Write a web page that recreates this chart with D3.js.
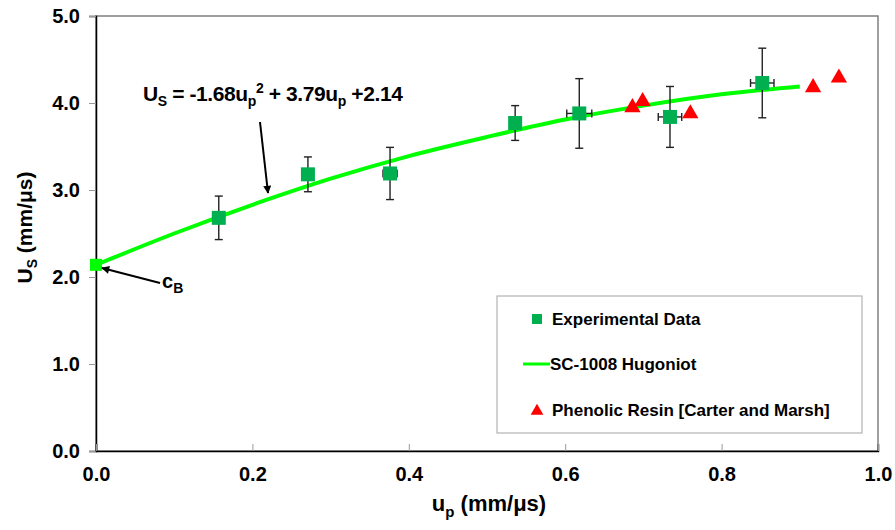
<!DOCTYPE html>
<html><head><meta charset="utf-8">
<script src="https://cdn.jsdelivr.net/npm/d3@7"></script>
<style>
body{margin:0;background:#fff}
text{font-family:"Liberation Sans",Arial,Helvetica,sans-serif;font-weight:bold;fill:#000}
</style>
</head><body><svg id="c" width="895" height="530"></svg>
<script>
// ---- data ----
const expUp    = [0.157, 0.271, 0.376, 0.536, 0.618, 0.734, 0.852];
const expUs    = [2.68, 3.18, 3.19, 3.77, 3.88, 3.84, 4.23];
const expUsErr = [0.25, 0.20, 0.30, 0.20, 0.40, 0.35, 0.40];
const expUpErr = [0, 0, 0.009, 0, 0.016, 0.015, 0.015];
const resinUp  = [0.686, 0.699, 0.760, 0.917, 0.950];
const resinUs  = [3.96, 4.03, 3.89, 4.19, 4.30];
const hugUp    = [0, 0.1, 0.2, 0.3, 0.4, 0.5, 0.6, 0.7, 0.8, 0.9];
const hugUs    = [2.14, 2.50, 2.83, 3.13, 3.39, 3.61, 3.81, 3.97, 4.10, 4.19];
const cB       = [0, 2.14];
const xTicks   = [0, 0.2, 0.4, 0.6, 0.8, 1.0];
const yTicks   = [0, 1, 2, 3, 4, 5];
const legendLabels = ["Experimental Data", "SC-1008 Hugoniot", "Phenolic Resin [Carter and Marsh]"];

// ---- layout ----
const svg = d3.select("#c");
const L = 96, R = 878, T = 16, B = 451;
const x = d3.scaleLinear().domain([0, 1]).range([L, R]);
const y = d3.scaleLinear().domain([0, 5]).range([B, T]);
const fmt = d3.format(".1f");
const GREEN = "#00b050", LIME = "#00ff00", RED = "#ff0000";

const defs = svg.append("defs");
defs.append("marker").attr("id", "arr").attr("viewBox", "0 0 10 10")
  .attr("refX", 9).attr("refY", 5).attr("markerWidth", 9).attr("markerHeight", 8)
  .attr("markerUnits", "userSpaceOnUse").attr("orient", "auto")
  .append("path").attr("d", "M0,0L10,5L0,10Z").attr("fill", "#000");

// frame (top/right grey)
svg.append("rect").attr("x", L).attr("y", T).attr("width", R - L).attr("height", B - T)
  .attr("fill", "none").attr("stroke", "#7f7f7f").attr("stroke-width", 1.5);

// axes
const gy = svg.append("g").attr("transform", `translate(${L},0)`)
  .call(d3.axisLeft(y).tickValues(yTicks).tickFormat(fmt).tickSize(7).tickPadding(9));
const gx = svg.append("g").attr("transform", `translate(0,${B})`)
  .call(d3.axisBottom(x).tickValues(xTicks).tickFormat(fmt).tickSize(-7).tickPadding(16));
[gy, gx].forEach(g => {
  g.select(".domain").attr("stroke", "#000").attr("stroke-width", 1.5);
  g.selectAll(".tick line").attr("stroke", "#999").attr("stroke-width", 1);
  g.selectAll(".tick text").style("font-size", "20px").style("font-weight", "bold")
    .style("font-family", '"Liberation Sans",Arial,sans-serif').attr("fill", "#000");
});
gx.selectAll(".tick text").attr("dy", "0.71em");

// axis titles
const yt = svg.append("text").attr("transform", `translate(32,${(T + B) / 2 - 6}) rotate(-90)`)
  .attr("text-anchor", "middle").style("font-size", "21px");
yt.append("tspan").text("U");
yt.append("tspan").text("S").style("font-size", "14px").attr("dy", 5);
yt.append("tspan").text(" (mm/μs)").attr("dy", -5);

const xt = svg.append("text").attr("x", (L + R) / 2 + 2).attr("y", 511)
  .attr("text-anchor", "middle").style("font-size", "22px");
xt.append("tspan").text("u");
xt.append("tspan").text("p").style("font-size", "15px").attr("dy", 6);
xt.append("tspan").text(" (mm/μs)").attr("dy", -6);

// Hugoniot curve
const line = d3.line().x(d => x(d[0])).y(d => y(d[1])).curve(d3.curveMonotoneX);
svg.append("path").datum(hugUp.map((u, i) => [u, hugUs[i]]))
  .attr("d", line).attr("fill", "none").attr("stroke", LIME).attr("stroke-width", 4);

// cB point
svg.append("rect").attr("x", x(cB[0]) - 6).attr("y", y(cB[1]) - 6)
  .attr("width", 12).attr("height", 12).attr("fill", LIME);

// error bars
const eb = svg.append("g").attr("stroke", "#222").attr("stroke-width", 1.4);
expUp.forEach((u, i) => {
  const cx = x(u), y1 = y(expUs[i] + expUsErr[i]), y2 = y(expUs[i] - expUsErr[i]);
  eb.append("line").attr("x1", cx).attr("x2", cx).attr("y1", y1).attr("y2", y2);
  eb.append("line").attr("x1", cx - 4).attr("x2", cx + 4).attr("y1", y1).attr("y2", y1);
  eb.append("line").attr("x1", cx - 4).attr("x2", cx + 4).attr("y1", y2).attr("y2", y2);
  if (expUpErr[i] > 0) {
    const xa = x(u - expUpErr[i]), xb = x(u + expUpErr[i]), cy = y(expUs[i]);
    eb.append("line").attr("x1", xa).attr("x2", xb).attr("y1", cy).attr("y2", cy);
    eb.append("line").attr("x1", xa).attr("x2", xa).attr("y1", cy - 4).attr("y2", cy + 4);
    eb.append("line").attr("x1", xb).attr("x2", xb).attr("y1", cy - 4).attr("y2", cy + 4);
  }
});

// experimental squares
svg.append("g").selectAll("rect").data(expUp).join("rect")
  .attr("x", (d) => x(d) - 7).attr("y", (d, i) => y(expUs[i]) - 7)
  .attr("width", 14).attr("height", 14).attr("fill", GREEN);

// resin triangles
const tri = d3.symbol().type(d3.symbolTriangle).size(115);
svg.append("g").selectAll("path").data(resinUp).join("path")
  .attr("d", tri).attr("transform", (d, i) => `translate(${x(d)},${y(resinUs[i]) + 1})`)
  .attr("fill", RED);

// equation annotation
const eq = svg.append("text").attr("x", 143).attr("y", 101).style("font-size", "21px")
  .style("letter-spacing", "-0.4px");
eq.append("tspan").text("U");
eq.append("tspan").text("S").style("font-size", "14px").attr("dy", 5);
eq.append("tspan").text(" = -1.68u").attr("dy", -5);
eq.append("tspan").text("p").style("font-size", "14px").attr("dy", 5);
eq.append("tspan").text("2").style("font-size", "14px").attr("dy", -13);
eq.append("tspan").text(" + 3.79u").attr("dy", 8);
eq.append("tspan").text("p").style("font-size", "14px").attr("dy", 5);
eq.append("tspan").text(" +2.14").attr("dy", -5);
svg.append("line").attr("x1", 260).attr("y1", 122).attr("x2", 268).attr("y2", 193)
  .attr("stroke", "#000").attr("stroke-width", 2).attr("marker-end", "url(#arr)");

// cB annotation
svg.append("line").attr("x1", 160).attr("y1", 283).attr("x2", 102).attr("y2", 268)
  .attr("stroke", "#000").attr("stroke-width", 2).attr("marker-end", "url(#arr)");
const cb = svg.append("text").attr("x", 162).attr("y", 288).style("font-size", "20px");
cb.append("tspan").text("c");
cb.append("tspan").text("B").style("font-size", "14px").attr("dy", 5);

// legend
const lg = svg.append("g");
lg.append("rect").attr("x", 497).attr("y", 296).attr("width", 365).attr("height", 137)
  .attr("fill", "#fff").attr("stroke", "#b3b3b3").attr("stroke-width", 1.2);
const ly = [319, 364, 410];
lg.append("rect").attr("x", 532).attr("y", ly[0] - 5).attr("width", 10).attr("height", 10).attr("fill", GREEN);
lg.append("line").attr("x1", 523).attr("x2", 550).attr("y1", ly[1]).attr("y2", ly[1])
  .attr("stroke", LIME).attr("stroke-width", 3);
lg.append("path").attr("d", d3.symbol().type(d3.symbolTriangle).size(70))
  .attr("transform", `translate(537,${ly[2] + 1})`).attr("fill", RED);
lg.selectAll("text.l").data(legendLabels).join("text").attr("class", "l")
  .attr("x", (d, i) => i === 1 ? 550 : 552).attr("y", (d, i) => ly[i]).attr("dy", "0.36em")
  .style("font-size", "17px").text(d => d);
</script>
</body></html>
